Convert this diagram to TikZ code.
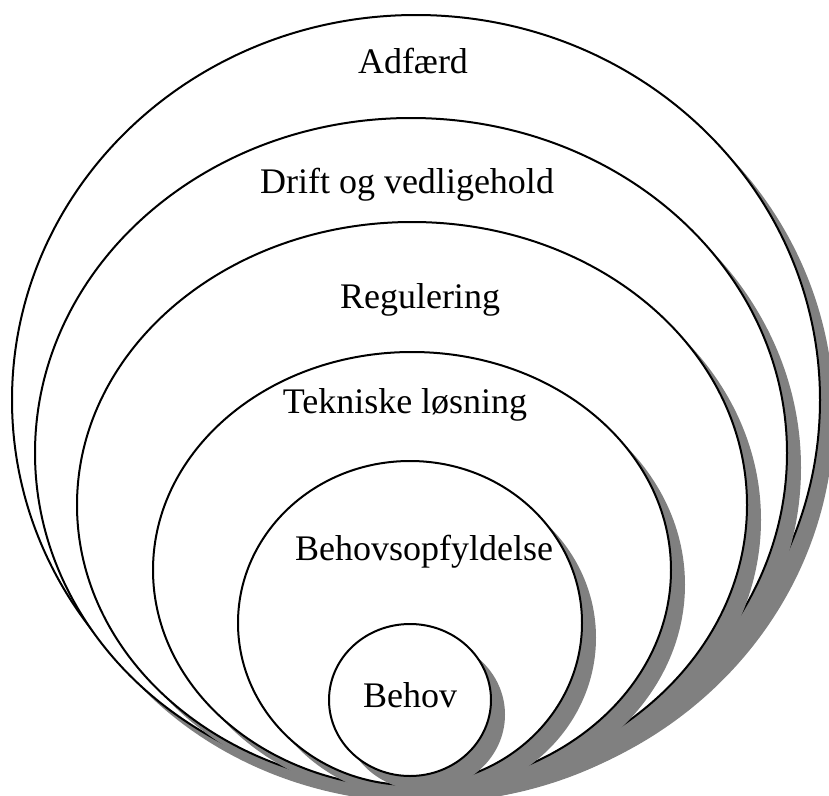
\documentclass[tikz,border=0pt]{standalone}
\usepackage{fontspec}
\setmainfont{Liberation Serif}
\usetikzlibrary{shadows}

\begin{document}
\begin{tikzpicture}[x=0.75pt,y=-0.75pt,
    ring/.style={draw=black, line width=1.5pt, fill=white,
      drop shadow={shadow xshift=10.5pt, shadow yshift=-11pt, fill=gray, opacity=1}},
    lbl/.style={anchor=base, font=\fontsize{27}{32}\selectfont}]
    \useasboundingbox (0,0) rectangle (829,796);

    \draw[ring] (416,400) ellipse [x radius=404, y radius=385];
    \draw[ring] (411,453) ellipse [x radius=376, y radius=335];
    \draw[ring] (412,505) ellipse [x radius=335, y radius=283];
    \draw[ring] (412,570) ellipse [x radius=259, y radius=218];
    \draw[ring] (410,623) ellipse [x radius=172, y radius=162];
    \draw[ring] (410,700) ellipse [x radius=81, y radius=76];

    \node[lbl] (adfaerd) at (413,73) {Adfærd};
    \node[lbl] (drift) at (407,193) {Drift og vedligehold};
    \node[lbl] (regulering) at (420,308) {Regulering};
    \node[lbl] (teknik) at (405,413) {Tekniske løsning};
    \node[lbl] (opfyld) at (424,560) {Behovsopfyldelse};
    \node[lbl] (behov) at (410,707) {Behov};
  \end{tikzpicture}
\end{document}
